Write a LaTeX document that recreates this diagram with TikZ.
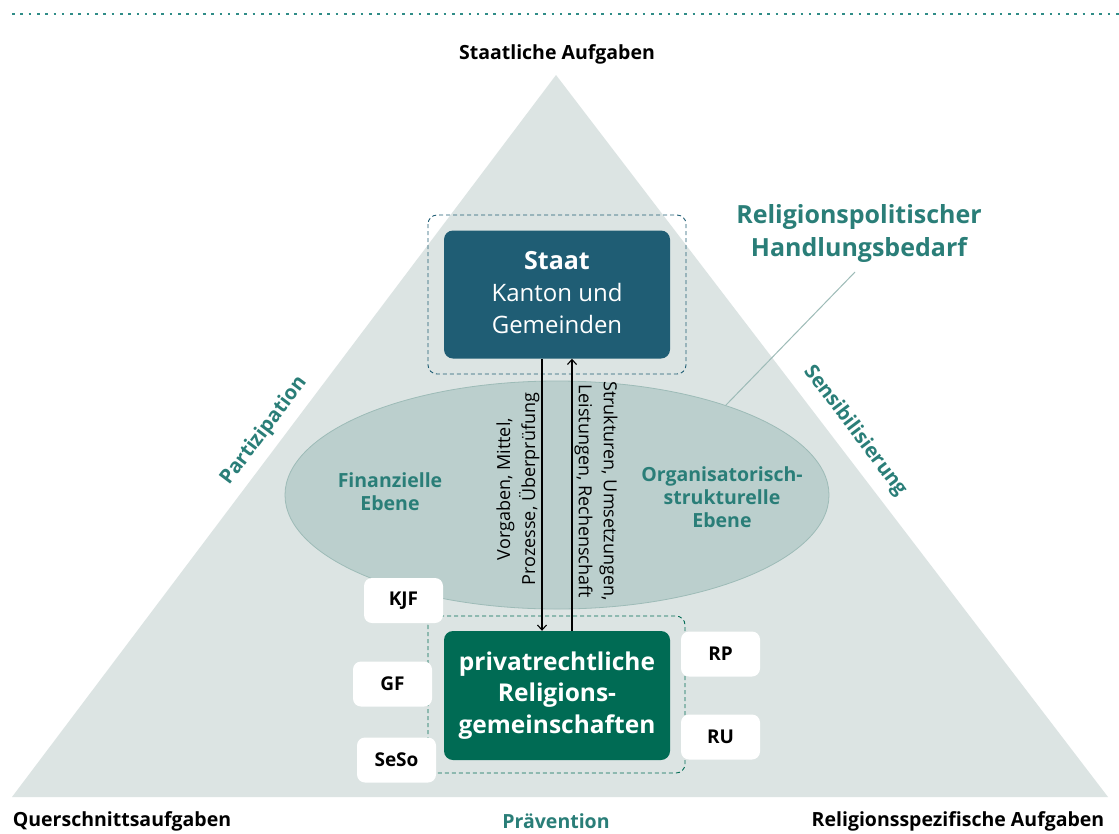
\documentclass[tikz,border=0pt]{standalone}
\usepackage{fontspec}
\setmainfont{Open Sans}
\usetikzlibrary{arrows.meta,shapes.geometric}
\definecolor{tri}{HTML}{DCE4E3}
\definecolor{ellfill}{HTML}{BBCFCD}
\definecolor{elldraw}{HTML}{9DBBB7}
\definecolor{staatblue}{HTML}{1F5D74}
\definecolor{privgreen}{HTML}{006B54}
\definecolor{tealtxt}{HTML}{2A7E78}
\definecolor{dotc}{HTML}{2F8C87}
\tikzset{
  mainbox/.style={rounded corners=9pt, minimum width=226pt, minimum height=128pt, inner sep=0pt, align=center, text=white},
  dashbox/.style={dashed, dash pattern=on 4pt off 3pt, rounded corners=9pt, line width=0.9pt},
  tag/.style={fill=white, rounded corners=8pt, minimum width=79pt, minimum height=45pt, inner sep=0pt, font=\fontsize{19}{22}\selectfont\bfseries},
  teallab/.style={text=tealtxt, font=\fontsize{19.5}{23}\selectfont\bfseries, align=center},
  blacklab/.style={text=black, font=\fontsize{19.5}{23}\selectfont\bfseries},
  flow/.style={line width=1.1pt, -{Straight Barb[length=5pt,width=9pt]}},
}
\begin{document}
\begin{tikzpicture}[x=1pt,y=-1pt]
\useasboundingbox (0,0) rectangle (1119,833);
\fill[white] (0,0) rectangle (1119,833);
% dotted rule
\draw[dotc, line width=2.6pt, dash pattern=on 2.6pt off 5.7pt] (12,14) coordinate (r1) -- (1119,14) coordinate (r2);
% triangle
\fill[tri] (556,75) coordinate (apex) -- (1108,797) coordinate (br) -- (12,797) coordinate (bl) -- cycle;
% ellipse
\node[ellipse, fill=ellfill, draw=elldraw, line width=0.8pt, minimum width=544pt, minimum height=228pt, inner sep=0pt] (ell) at (557,495) {};
% dashed frames
\draw[dashbox, draw=staatblue] (428,215) rectangle (686,374);
\draw[dashbox, draw=privgreen] (428,616) rectangle (685,773);
% main boxes
\node[mainbox, fill=staatblue] (staat) at (557,294.5) {};
\node[align=center, text=white, font=\fontsize{24}{32}\selectfont] (staattxt) at ([yshift=2pt]staat.center) {{\fontsize{25}{32}\selectfont\bfseries Staat}\\Kanton und\\Gemeinden};
\node[mainbox, fill=privgreen, minimum height=129pt, font=\fontsize{24.5}{31.5}\selectfont\bfseries] (priv) at (557,695.5) {privatrechtliche\\Religions-\\gemeinschaften};
% flows
\draw[flow] ([xshift=-15pt]staat.south) -- ([xshift=-15pt]priv.north);
\draw[flow] ([xshift=15pt]priv.north) -- ([xshift=15pt]staat.south);
\node[rotate=90, align=center, font=\fontsize{18}{25}\selectfont] (vorg) at (518,489) {Vorgaben, Mittel,\\Prozesse, Überprüfung};
\node[rotate=-90, align=center, font=\fontsize{18}{25}\selectfont] (strk) at (596,491) {Strukturen, Umsetzungen,\\Leistungen, Rechenschaft};
% ellipse labels
\node[teallab] (fin) at (390,492) {Finanzielle\\Ebene};
\node[teallab] (org) at (722,497) {Organisatorisch-\\strukturelle\\Ebene};
% tags
\node[tag] (kjf) at (403.5,600.5) {KJF};
\node[tag] (gf) at (392.5,684) {GF};
\node[tag] (seso) at (396.5,760) {SeSo};
\node[tag] (rp) at (720.5,654) {RP};
\node[tag] (ru) at (720.5,737) {RU};
% Handlungsbedarf
\node[teallab, font=\fontsize{25}{33}\selectfont\bfseries] (hb) at (859,234) {Religionspolitischer\\Handlungsbedarf};
\coordinate (hbend) at (855,272);
\draw[elldraw, line width=1pt] (hbend) -- (ell.28.7);
% side labels
\node[teallab, rotate=53, font=\fontsize{20}{24}\selectfont\bfseries] (part) at (264,431) {Partizipation};
\node[teallab, rotate=-53, font=\fontsize{20}{24}\selectfont\bfseries] (sens) at (855,431) {Sensibilisierung};
% corner labels
\node[blacklab] (sa) at (557,54) {Staatliche Aufgaben};
\node[blacklab] (qa) at (122,821) {Querschnittsaufgaben};
\node[teallab] (prae) at (556,821) {Prävention};
\node[blacklab] (rsa) at (958,821) {Religionsspezifische Aufgaben};
\end{tikzpicture}
\end{document}
